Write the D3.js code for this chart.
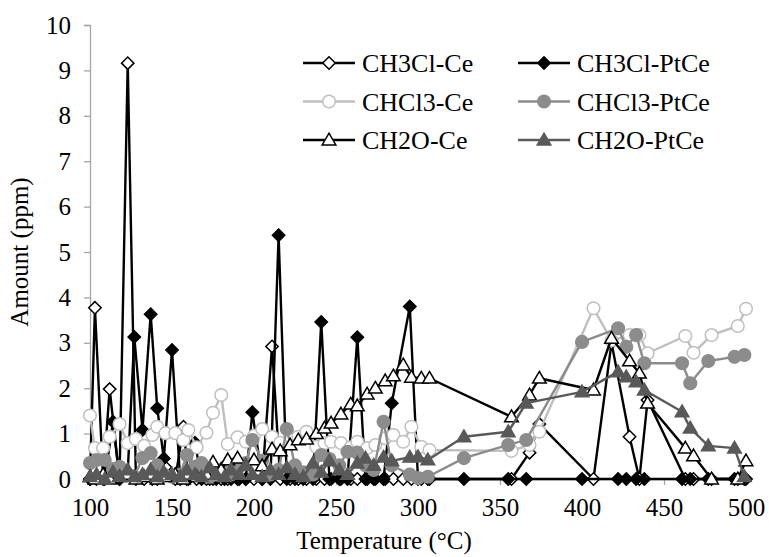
<!DOCTYPE html>
<html>
<head>
<meta charset="utf-8">
<script src="https://cdn.jsdelivr.net/npm/d3@7"></script>
<style>
  body { margin: 0; background: #fff; }
</style>
</head>
<body>
<div id="chart"></div>
<script>
// temperatures (°C) of the two catalysts' measurements
var tempCe = [100, 103, 108, 112, 118, 123, 128, 133, 138, 141, 146, 152, 157, 160, 165,
  171, 175, 180, 184, 190, 195, 200, 205, 211, 216, 222, 227, 232, 238, 243,
  247, 253, 259, 263, 269, 274, 280, 285, 291, 296, 302, 307, 357, 368, 374,
  407, 418, 429, 435, 440, 463, 468, 479, 495, 500];
var tempPtCe = [100, 104, 109, 114, 118, 123, 127, 132, 137, 141, 145, 150, 155, 159, 164,
  168, 173, 177, 182, 186, 191, 195, 199, 205, 210, 215, 220, 225, 230, 236,
  241, 246, 252, 257, 263, 268, 273, 279, 284, 295, 300, 306, 328, 355, 366,
  400, 422, 427, 433, 438, 461, 466, 477, 493, 499];

// amounts (ppm)
var ch3clCe = [0, 3.77, 0, 1.98, 0, 9.16, 0, 0, 0, 0, 0.26, 0, 1.15, 0, 0,
  0, 0, 0, 0, 0, 0, 0, 0, 2.92, 0, 0, 0, 0, 0, 0,
  0, 0, 0, 0, 0, 0, 0, 0, 0, 0, 0, 0, 0, 0.58, 1.21,
  0, 3.0, 0.93, 0, 1.74, 0, 0, 0, 0, 0];
var ch3clPtCe = [0, 0, 0, 1.26, 0, 0.15, 3.13, 1.08, 3.63, 1.56, 0.45, 2.84, 0, 0, 0.8,
  0, 0, 0, 0, 0, 0, 0, 1.47, 0, 0, 5.37, 0, 0, 0, 0,
  3.46, 0, 0, 0, 3.12, 0, 0, 0, 1.67, 3.80, 0, 0, 0, 0, 0,
  0, 0, 0, 0, 0, 0, 0, 0, 0, 0];
var chcl3Ce = [1.4, 0.68, 0.68, 0.93, 1.21, 0.79, 0.88, 0.73, 0.97, 1.15, 1.01, 1.01, 0.86, 1.08, 0.70,
  1.02, 1.46, 1.85, 0.77, 0.92, 0.82, 0.95, 1.1, 0.93, 0.8, 0.95, 0.93, 1.04, 0.71, 0.79,
  0.82, 0.79, 0.7, 0.82, 0.68, 0.75, 0.9, 0.97, 0.82, 1.15, 0.71, 0.64, 0.62, 0.75, 1.04,
  3.76, 3.05, 3.17, 3.17, 2.77, 3.15, 2.78, 3.17, 3.37, 3.75];
var chcl3PtCe = [0.35, 0.42, 0.42, 0.22, 0.27, 0.1, 0.05, 0.46, 0.57, 0.3, 0.1, 0.05, 0.1, 0.53, 0.27,
  0.35, 0.05, 0.1, 0.25, 0.1, 0.27, 0.35, 0.86, 0.4, 0.1, 0.2, 1.1, 0.3, 0.15, 0.1,
  0.53, 0.44, 0.3, 0.6, 0.58, 0.3, 0.2, 1.26, 0.3, 0.1, 0.02, 0.05, 0.46, 0.75, 0.86,
  3.02, 3.32, 2.91, 3.17, 2.55, 2.55, 2.11, 2.6, 2.69, 2.73];
var ch2oCe = [0.05, 0, 0.1, 0, 0.05, 0.1, 0, 0.05, 0.1, 0, 0.05, 0.1, 0, 0.1, 0.05,
  0.1, 0.37, 0.2, 0.42, 0.46, 0.3, 0.42, 0.29, 0.66, 0.62, 0.75, 0.86, 0.88, 1.0, 1.12,
  1.23, 1.43, 1.65, 1.61, 1.87, 2.0, 2.16, 2.27, 2.51, 2.24, 2.22, 2.22, 1.37, 1.85, 2.22,
  1.96, 3.1, 2.6, 2.33, 1.67, 0.68, 0.51, 0, 0, 0.4];
var ch2oPtCe = [0.05, 0.1, 0, 0.15, 0.05, 0.2, 0.05, 0.1, 0.2, 0.05, 0.15, 0.1, 0.05, 0.2, 0.1,
  0.05, 0.25, 0.1, 0.05, 0.2, 0.1, 0.3, 0.1, 0.05, 0.2, 0.1, 0.25, 0.1, 0.05, 0.35,
  0.15, 0.4, 0.2, 0.1, 0.35, 0.46, 0.3, 0.48, 0.4, 0.48, 0.49, 0.42, 0.93, 1.04, 1.67,
  1.92, 2.36, 2.25, 2.14, 1.96, 1.48, 1.12, 0.73, 0.68, 0.05];

var xTicks = [100, 150, 200, 250, 300, 350, 400, 450, 500];
var yTicks = [0, 1, 2, 3, 4, 5, 6, 7, 8, 9, 10];

var series = [
  {name: "CH3Cl-Ce",   t: tempCe,   v: ch3clCe,   line: "#000000", shape: "diamond",  fill: "#ffffff", stroke: "#000000"},
  {name: "CH3Cl-PtCe", t: tempPtCe, v: ch3clPtCe, line: "#000000", shape: "diamond",  fill: "#000000", stroke: "#000000"},
  {name: "CHCl3-Ce",   t: tempCe,   v: chcl3Ce,   line: "#bfbfbf", shape: "circle",   fill: "#ffffff", stroke: "#bfbfbf"},
  {name: "CHCl3-PtCe", t: tempPtCe, v: chcl3PtCe, line: "#8c8c8c", shape: "circle",   fill: "#8c8c8c", stroke: "#8c8c8c"},
  {name: "CH2O-Ce",    t: tempCe,   v: ch2oCe,    line: "#000000", shape: "triangle", fill: "#ffffff", stroke: "#000000"},
  {name: "CH2O-PtCe",  t: tempPtCe, v: ch2oPtCe,  line: "#595959", shape: "triangle", fill: "#595959", stroke: "#595959"}
];

var FONT = "'Liberation Serif', 'DejaVu Serif', 'Times New Roman', Times, serif";

var W = 769, H = 557;
var margin = {top: 25, right: 23, bottom: 78, left: 90},
    width = W - margin.left - margin.right,
    height = H - margin.top - margin.bottom;

var svg = d3.select("#chart").append("svg")
    .attr("width", W)
    .attr("height", H);

var g = svg.append("g")
    .attr("transform", "translate(" + margin.left + "," + margin.top + ")");

var x = d3.scaleLinear().domain([100, 500]).range([0, width]);
var y = d3.scaleLinear().domain([0, 10]).range([height, 0]);

// axes
var xAxis = g.append("g")
    .attr("transform", "translate(0," + height + ")")
    .call(d3.axisBottom(x).tickValues(xTicks).tickSize(6).tickPadding(13));
var yAxis = g.append("g")
    .call(d3.axisLeft(y).tickValues(yTicks).tickSize(6).tickPadding(13));

[xAxis, yAxis].forEach(function(a) {
  a.attr("font-family", null).attr("font-size", null);
  a.selectAll("path,line").attr("stroke", "#a6a6a6").attr("stroke-width", 1.3);
  a.selectAll("text")
      .style("font-family", FONT)
      .style("font-size", "25px")
      .attr("fill", "#000");
});

svg.append("text")
    .attr("x", 384).attr("y", 549)
    .attr("text-anchor", "middle")
    .style("font-family", FONT)
    .style("font-size", "25px")
    .text("Temperature (°C)");

svg.append("text")
    .attr("transform", "translate(28,252) rotate(-90)")
    .attr("text-anchor", "middle")
    .style("font-family", FONT)
    .style("font-size", "25px")
    .text("Amount (ppm)");

function markerPath(shape, s) {
  if (shape === "diamond") return "M0," + (-s) + "L" + s + ",0L0," + s + "L" + (-s) + ",0Z";
  if (shape === "triangle") return "M0," + (-s * 1.05) + "L" + (s * 1.05) + "," + (s * 0.75) + "L" + (-s * 1.05) + "," + (s * 0.75) + "Z";
  return d3.symbol().type(d3.symbolCircle).size(Math.PI * s * s)();
}
var markSize = {diamond: 6.2, circle: 6.3, triangle: 6.5};

var line = d3.line()
    .x(function(d) { return x(d[0]); })
    .y(function(d) { return y(d[1]); });

series.forEach(function(s) {
  var pts = s.t.map(function(t, i) { return [t, s.v[i]]; });
  var sg = g.append("g");
  sg.append("path")
      .datum(pts)
      .attr("fill", "none")
      .attr("stroke", s.line)
      .attr("stroke-width", 2.4)
      .attr("stroke-linejoin", "round")
      .attr("d", line);
  sg.selectAll("path.m")
      .data(pts)
      .enter().append("path")
      .attr("class", "m")
      .attr("transform", function(d) { return "translate(" + x(d[0]) + "," + y(d[1]) + ")"; })
      .attr("d", markerPath(s.shape, markSize[s.shape]))
      .attr("fill", s.fill)
      .attr("stroke", s.stroke)
      .attr("stroke-width", 1.5);
});

// legend, two columns
var legend = svg.selectAll(".legend")
    .data(series)
    .enter().append("g")
    .attr("class", "legend")
    .attr("transform", function(d, i) {
      return "translate(" + (i % 2 === 0 ? 303 : 518) + "," + (63 + Math.floor(i / 2) * 38.5) + ")";
    });

legend.append("line")
    .attr("x1", 0).attr("x2", 52)
    .attr("stroke", function(d) { return d.line; })
    .attr("stroke-width", 2.4);

legend.append("path")
    .attr("transform", "translate(26,0)")
    .attr("d", function(d) { return markerPath(d.shape, markSize[d.shape]); })
    .attr("fill", function(d) { return d.fill; })
    .attr("stroke", function(d) { return d.stroke; })
    .attr("stroke-width", 1.5);

legend.append("text")
    .attr("x", 59)
    .attr("y", 9)
    .style("font-family", FONT)
    .style("font-size", "26px")
    .text(function(d) { return d.name; });
</script>
</body>
</html>
